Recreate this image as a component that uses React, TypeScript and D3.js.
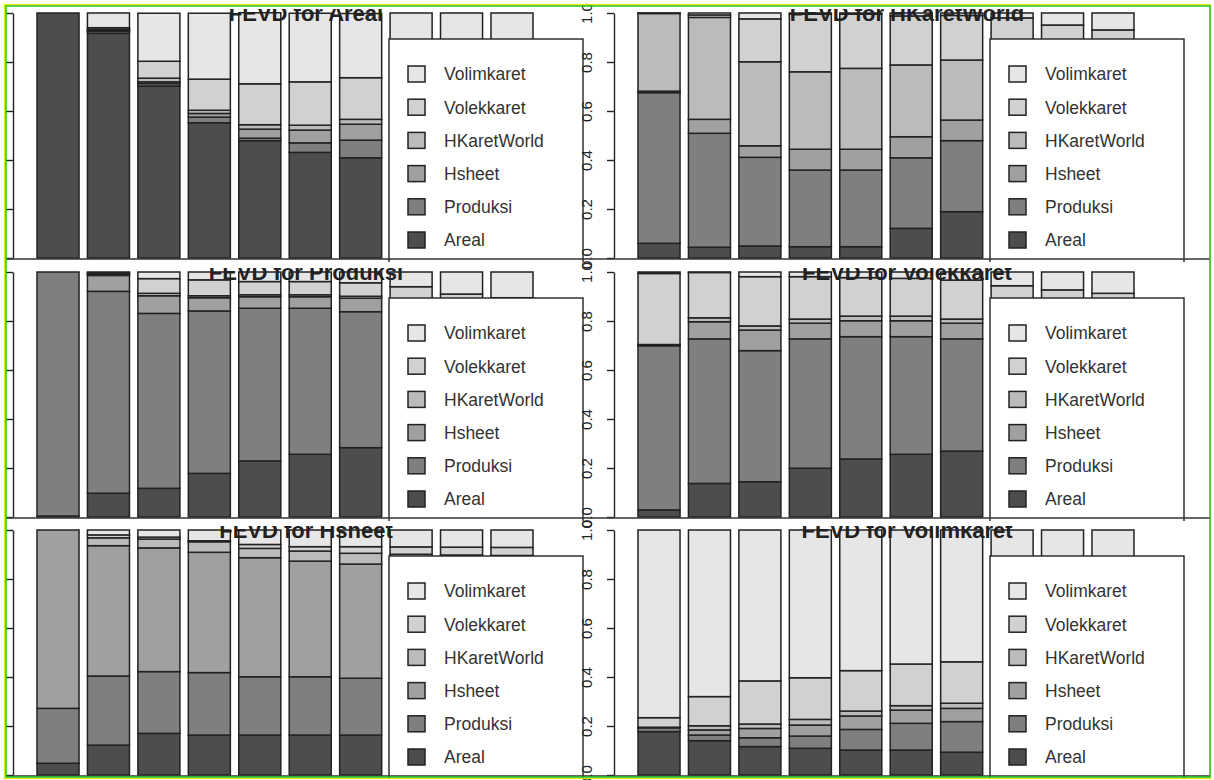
import React, { useRef, useEffect } from "react";
import * as d3 from "d3";

const W = 1214;
const H = 780;

const horizons = [1, 2, 3, 4, 5, 6, 7, 8, 9, 10];
// bottom to top in each bar
const seriesNames = ["Areal", "Produksi", "Hsheet", "HKaretWorld", "Volekkaret", "Volimkaret"];
const seriesColors = ["#4d4d4d", "#7f7f7f", "#a0a0a0", "#bbbbbb", "#d1d1d1", "#e6e6e6"];
const yTicks = [0, 0.2, 0.4, 0.6, 0.8, 1.0];

// rows follow seriesNames, columns follow horizons
const fevdAreal = [
  [1.0, 0.917, 0.702, 0.552, 0.479, 0.431, 0.409, 0.399, 0.392, 0.388],
  [0, 0.008, 0.01, 0.023, 0.01, 0.039, 0.072, 0.08, 0.085, 0.089],
  [0, 0.004, 0.007, 0.015, 0.037, 0.052, 0.065, 0.07, 0.073, 0.075],
  [0, 0.004, 0.015, 0.013, 0.018, 0.02, 0.02, 0.021, 0.022, 0.022],
  [0, 0.007, 0.069, 0.127, 0.167, 0.177, 0.17, 0.172, 0.173, 0.174],
  [0, 0.06, 0.196, 0.269, 0.29, 0.28, 0.262, 0.258, 0.255, 0.252],
];

const fevdHKaretWorld = [
  [0.06, 0.044, 0.049, 0.046, 0.046, 0.121, 0.189, 0.22, 0.24, 0.255],
  [0.615, 0.465, 0.362, 0.313, 0.313, 0.288, 0.29, 0.285, 0.28, 0.275],
  [0.006, 0.057, 0.047, 0.085, 0.085, 0.086, 0.084, 0.083, 0.082, 0.08],
  [0.317, 0.416, 0.343, 0.316, 0.33, 0.293, 0.245, 0.232, 0.225, 0.22],
  [0.001, 0.01, 0.175, 0.235, 0.221, 0.2, 0.182, 0.16, 0.124, 0.101],
  [0.001, 0.008, 0.024, 0.005, 0.005, 0.012, 0.01, 0.02, 0.049, 0.069],
];

const fevdProduksi = [
  [0.004, 0.097, 0.117, 0.178, 0.229, 0.256, 0.283, 0.3, 0.31, 0.318],
  [0.996, 0.824, 0.714, 0.663, 0.623, 0.596, 0.555, 0.52, 0.49, 0.47],
  [0, 0.065, 0.072, 0.054, 0.047, 0.047, 0.055, 0.056, 0.056, 0.057],
  [0, 0.006, 0.01, 0.008, 0.008, 0.008, 0.008, 0.008, 0.008, 0.008],
  [0, 0.004, 0.06, 0.065, 0.054, 0.054, 0.055, 0.056, 0.046, 0.042],
  [0, 0.004, 0.027, 0.032, 0.039, 0.039, 0.044, 0.06, 0.09, 0.105],
];

const fevdVolekkaret = [
  [0.029, 0.137, 0.144, 0.199, 0.237, 0.256, 0.269, 0.28, 0.29, 0.298],
  [0.67, 0.59, 0.535, 0.528, 0.499, 0.48, 0.458, 0.447, 0.437, 0.428],
  [0.003, 0.07, 0.084, 0.064, 0.065, 0.065, 0.064, 0.063, 0.062, 0.062],
  [0.002, 0.016, 0.017, 0.017, 0.019, 0.019, 0.017, 0.017, 0.017, 0.017],
  [0.29, 0.185, 0.201, 0.173, 0.157, 0.154, 0.159, 0.137, 0.121, 0.108],
  [0.006, 0.002, 0.019, 0.019, 0.023, 0.026, 0.033, 0.056, 0.073, 0.087],
];

const fevdHsheet = [
  [0.048, 0.122, 0.17, 0.163, 0.163, 0.163, 0.163, 0.163, 0.163, 0.163],
  [0.224, 0.282, 0.252, 0.255, 0.238, 0.238, 0.232, 0.23, 0.229, 0.228],
  [0.728, 0.532, 0.505, 0.491, 0.486, 0.472, 0.466, 0.462, 0.459, 0.457],
  [0, 0.032, 0.036, 0.043, 0.038, 0.041, 0.044, 0.046, 0.047, 0.048],
  [0, 0.012, 0.008, 0.004, 0.016, 0.018, 0.027, 0.03, 0.032, 0.033],
  [0, 0.02, 0.029, 0.044, 0.059, 0.068, 0.068, 0.069, 0.07, 0.071],
];

const fevdVolimkaret = [
  [0.177, 0.14, 0.116, 0.109, 0.102, 0.102, 0.093, 0.09, 0.088, 0.086],
  [0.016, 0.023, 0.036, 0.05, 0.084, 0.109, 0.125, 0.135, 0.142, 0.148],
  [0.001, 0.021, 0.038, 0.045, 0.055, 0.054, 0.054, 0.055, 0.055, 0.056],
  [0.001, 0.017, 0.018, 0.023, 0.02, 0.018, 0.021, 0.021, 0.021, 0.021],
  [0.039, 0.119, 0.176, 0.17, 0.165, 0.17, 0.169, 0.17, 0.171, 0.172],
  [0.766, 0.68, 0.616, 0.603, 0.574, 0.547, 0.538, 0.529, 0.523, 0.517],
];

const panels = [
  { title: "FEVD for Areal", values: fevdAreal, col: 0, row: 0 },
  { title: "FEVD for HKaretWorld", values: fevdHKaretWorld, col: 1, row: 0 },
  { title: "FEVD for Produksi", values: fevdProduksi, col: 0, row: 1 },
  { title: "FEVD for Volekkaret", values: fevdVolekkaret, col: 1, row: 1 },
  { title: "FEVD for Hsheet", values: fevdHsheet, col: 0, row: 2 },
  { title: "FEVD for Volimkaret", values: fevdVolimkaret, col: 1, row: 2 },
];

// layout of the cropped grid
const colX = [0, 601];
const rowTop = [13, 272, 530];
const unitH = 245;
const FONT = "'Liberation Sans', Arial, Helvetica, sans-serif";
const INK = "#222";

const FevdGrid = () => {
  const ref = useRef<SVGSVGElement>(null);

  useEffect(() => {
    const svg = d3.select(ref.current);
    svg.selectAll("*").remove();

    svg.append("rect").attr("width", W).attr("height", H).attr("fill", "#fff");
    const defs = svg.append("defs");

    panels.forEach((p, i) => {
      const ox = colX[p.col];
      const top = rowTop[p.row];
      const zero = top + unitH;

      const y = d3.scaleLinear().domain([0, 1]).range([zero, top]);
      const x = d3.scaleBand<number>()
        .domain(horizons)
        .range([ox + 37, ox + 533])
        .paddingInner(1 / 6);

      const clipId = `clip-${i}`;
      defs.append("clipPath").attr("id", clipId)
        .append("rect")
        .attr("x", p.col ? 577 : 0)
        .attr("y", top - 4)
        .attr("width", p.col ? W - 577 : 600)
        .attr("height", unitH + 8);

      const g = svg.append("g").attr("clip-path", `url(#${clipId})`);

      // stacked bars
      const rows = horizons.map((h, j) => {
        const o: any = { h };
        seriesNames.forEach((s, k) => (o[s] = p.values[k][j]));
        return o;
      });
      const stacked = d3.stack().keys(seriesNames)(rows);

      g.append("g")
        .selectAll("g")
        .data(stacked)
        .join("g")
        .attr("fill", (d, k) => seriesColors[k])
        .selectAll("rect")
        .data(d => d)
        .join("rect")
        .attr("x", (d: any) => x(d.data.h)!)
        .attr("y", d => y(d[1]))
        .attr("width", x.bandwidth())
        .attr("height", d => y(d[0]) - y(d[1]))
        .attr("stroke", INK)
        .attr("stroke-width", 1.5);

      // title (top is cut off by the crop)
      g.append("text")
        .attr("x", ox + 306)
        .attr("y", top + 8)
        .attr("text-anchor", "middle")
        .attr("font-family", FONT)
        .attr("font-weight", "bold")
        .attr("font-size", 22)
        .attr("fill", INK)
        .text(p.title);

      // legend
      const lx = ox + 389;
      const ly = top + 26;
      g.append("rect")
        .attr("x", lx).attr("y", ly)
        .attr("width", 194).attr("height", 232)
        .attr("fill", "#fff")
        .attr("stroke", INK)
        .attr("stroke-width", 1.4);

      const items = seriesNames.map((s, k) => ({ s, c: seriesColors[k] })).reverse();
      const leg = g.append("g")
        .selectAll("g")
        .data(items)
        .join("g")
        .attr("transform", (d, k) => `translate(${lx},${ly + 35 + k * 33.2})`);
      leg.append("rect")
        .attr("x", 19).attr("y", -8)
        .attr("width", 17).attr("height", 16)
        .attr("fill", d => d.c)
        .attr("stroke", INK)
        .attr("stroke-width", 1.5);
      leg.append("text")
        .attr("x", 55)
        .attr("dy", "0.36em")
        .attr("font-family", FONT)
        .attr("font-size", 17.5)
        .attr("fill", "#333")
        .text(d => d.s);

      // y axis with labels parallel to the axis; the left column's labels fall outside the crop
      const ax = svg.append("g")
        .attr("transform", `translate(${ox + 13},0)`)
        .call(d3.axisLeft(y).tickValues(yTicks).tickSize(7).tickSizeOuter(0).tickFormat(d3.format(".1f")));
      ax.select(".domain").attr("stroke", INK).attr("stroke-width", 1.4);
      ax.selectAll(".tick line").attr("stroke", INK).attr("stroke-width", 1.4);
      if (p.col === 0) {
        ax.selectAll(".tick text").remove();
      } else {
        ax.selectAll(".tick text")
          .attr("transform", "rotate(-90)")
          .attr("x", 0)
          .attr("y", -22)
          .attr("dy", 0)
          .attr("text-anchor", "middle")
          .attr("font-family", FONT)
          .attr("font-size", 15)
          .attr("fill", INK);
      }
    });

    // row base lines across the whole width
    svg.append("g")
      .selectAll("line")
      .data(rowTop)
      .join("line")
      .attr("x1", 6).attr("x2", 1210)
      .attr("y1", d => d + unitH + 1)
      .attr("y2", d => d + unitH + 1)
      .attr("stroke", "#333")
      .attr("stroke-width", 1.4);

    // outer frame
    svg.append("rect")
      .attr("x", 4.5).attr("y", 4.5)
      .attr("width", 1206).attr("height", 774)
      .attr("fill", "none").attr("stroke", "#e6e600").attr("stroke-width", 1.2);
    svg.append("rect")
      .attr("x", 6).attr("y", 6)
      .attr("width", 1204).attr("height", 771)
      .attr("fill", "none").attr("stroke", "#1fc41f").attr("stroke-width", 1.5);
  }, []);

  return (
    <svg
      ref={ref}
      width={W}
      height={H}
      style={{ position: "absolute", left: 0, top: 0, background: "#fff" }}
    />
  );
};

export default function App() {
  return <FevdGrid />;
}
